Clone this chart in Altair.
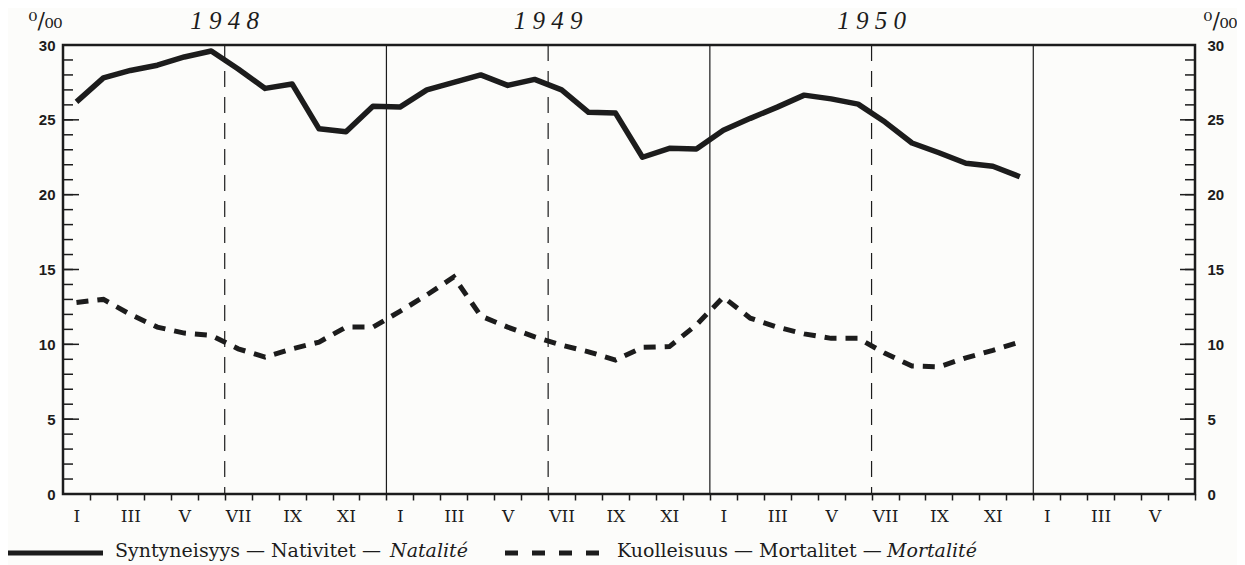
import altair as alt
import pandas as pd

# ---------------- data ----------------
years = [1948, 1949, 1950]
months_shown = 42  # Jan 1948 .. Jun 1951 on the x axis
roman = ["I", "II", "III", "IV", "V", "VI", "VII", "VIII", "IX", "X", "XI", "XII"]

births = [26.2, 27.8, 28.3, 28.65, 29.2, 29.6, 28.4, 27.1, 27.4, 24.4, 24.2, 25.9,
          25.85, 27.0, 27.5, 28.0, 27.3, 27.7, 27.0, 25.5, 25.45, 22.5, 23.1, 23.05,
          24.3, 25.1, 25.85, 26.65, 26.4, 26.05, 24.85, 23.45, 22.8, 22.1, 21.9, 21.2]
deaths = [12.8, 13.0, 12.0, 11.15, 10.75, 10.6, 9.7, 9.15, 9.7, 10.15, 11.15, 11.15,
          12.2, 13.3, 14.5, 11.9, 11.15, 10.5, 9.95, 9.5, 8.95, 9.8, 9.85, 11.3,
          13.15, 11.75, 11.15, 10.7, 10.4, 10.4, 9.4, 8.55, 8.5, 9.1, 9.6, 10.15]

y_major = [0, 5, 10, 15, 20, 25, 30]
y_minor = list(range(0, 31))
unit = "⁰/₀₀"
legend_plain = ["Syntyneisyys — Nativitet — ", "Kuolleisuus — Mortalitet — "]
legend_italic = ["Natalité", "Mortalité"]

# ---------------- layout / style ----------------
W, H = 1132, 449
INK = "#1c1c1c"
half = W / months_shown / 2

df = pd.DataFrame({"m": [i + 0.5 for i in range(len(births))],
                   "births": births, "deaths": deaths})
year_df = pd.DataFrame({"year": years})
year_df["start"] = (year_df["year"] - years[0]) * 12
year_df["mid"] = year_df["start"] + 6
year_df["end"] = year_df["start"] + 12
year_df["label"] = [" ".join(str(y)) for y in years]

xscale = alt.Scale(domain=[0, months_shown], nice=False, zero=False)
yscale = alt.Scale(domain=[0, 30], nice=False)

roman_js = "[" + ",".join("'%s'" % r for r in roman) + "]"
label_expr = "floor(datum.value) % 2 == 0 ? " + roman_js + "[floor(datum.value) % 12] : ''"

xaxis = alt.Axis(values=[i + 0.5 for i in range(months_shown)], labelExpr=label_expr,
                 orient="bottom",
                 tickSize=6, tickOffset=half, labelOffset=-half, tickColor=INK, tickWidth=1.5,
                 labelFont="DejaVu Serif", labelFontSize=17, labelColor=INK, labelPadding=8,
                 domain=False, grid=False, title=None, labelOverlap=False, labelFlush=False)

left_axis = alt.Axis(values=y_major, orient="left", tickSize=0, domain=False, grid=False,
                     labelFont="Liberation Sans", labelFontWeight="bold", labelFontSize=15,
                     labelColor=INK, labelPadding=8, title=unit, titleAngle=0, titleX=-18,
                     titleY=-25, titleFont="DejaVu Serif", titleFontSize=22,
                     titleFontWeight="normal", titleAlign="center", titleBaseline="middle",
                     titleColor=INK)
right_axis = alt.Axis(values=y_major, orient="right", tickSize=0, domain=False, grid=False,
                      labelFont="Liberation Sans", labelFontWeight="bold", labelFontSize=15,
                      labelColor=INK, labelPadding=12, title=unit, titleAngle=0, titleX=25,
                      titleY=-25, titleFont="DejaVu Serif", titleFontSize=22,
                      titleFontWeight="normal", titleAlign="center", titleBaseline="middle",
                      titleColor=INK)

births_line = alt.Chart(df).mark_line(color=INK, strokeWidth=5.5, strokeJoin="round").encode(
    x=alt.X("m:Q", scale=xscale, axis=xaxis),
    y=alt.Y("births:Q", scale=yscale, axis=left_axis),
)
deaths_line = alt.Chart(df).mark_line(color=INK, strokeWidth=5, strokeDash=[12, 9]).encode(
    x=alt.X("m:Q", scale=xscale, axis=None),
    y=alt.Y("deaths:Q", scale=yscale, axis=right_axis),
)

year_lines = alt.Chart(year_df).mark_rule(color=INK, strokeWidth=1.2).encode(
    x=alt.X("end:Q", scale=xscale, axis=None))
mid_lines = alt.Chart(year_df).mark_rule(color=INK, strokeWidth=1.2, strokeDash=[16, 10]).encode(
    x=alt.X("mid:Q", scale=xscale, axis=None))

year_text = alt.Chart(year_df).mark_text(font="Liberation Serif", fontStyle="italic",
                                         fontSize=25, color=INK, baseline="middle").encode(
    x=alt.X("mid:Q", scale=xscale, axis=None), y=alt.value(-24), text="label:N")

minor_df = pd.DataFrame({"v": y_minor})
major_df = pd.DataFrame({"v": y_major})
lt_minor = alt.Chart(minor_df).mark_rule(color=INK, strokeWidth=1.5).encode(
    y=alt.Y("v:Q", scale=yscale, axis=None), x=alt.value(0), x2=alt.value(10))
lt_major = alt.Chart(major_df).mark_rule(color=INK, strokeWidth=1.5).encode(
    y=alt.Y("v:Q", scale=yscale, axis=None), x=alt.value(0), x2=alt.value(16))
rt_minor = alt.Chart(minor_df).mark_rule(color=INK, strokeWidth=1.5).encode(
    y=alt.Y("v:Q", scale=yscale, axis=None), x=alt.value(W), x2=alt.value(W - 10))
rt_major = alt.Chart(major_df).mark_rule(color=INK, strokeWidth=1.5).encode(
    y=alt.Y("v:Q", scale=yscale, axis=None), x=alt.value(W), x2=alt.value(W - 15))

one = pd.DataFrame({"k": [0]})
leg_solid = alt.Chart(one).mark_rule(color=INK, strokeWidth=5).encode(
    x=alt.value(-58), x2=alt.value(40), y=alt.value(508))
leg_dash = alt.Chart(one).mark_rule(color=INK, strokeWidth=5, strokeDash=[13, 14]).encode(
    x=alt.value(442), x2=alt.value(537), y=alt.value(508))

def leg_text(s, x, italic):
    return alt.Chart(pd.DataFrame({"t": [s]})).mark_text(
        align="left", baseline="alphabetic", font="DejaVu Serif", fontSize=19, color=INK,
        fontStyle="italic" if italic else "normal").encode(
        text="t:N", x=alt.value(x), y=alt.value(512))

legend = [leg_text(legend_plain[0], 52, False), leg_text(legend_italic[0], 327, True),
          leg_text(legend_plain[1], 554, False), leg_text(legend_italic[1], 824, True)]

chart = alt.layer(
    births_line, deaths_line, year_lines, mid_lines, lt_minor, lt_major, rt_minor, rt_major,
    year_text, leg_solid, leg_dash, *legend
).resolve_scale(x="shared", y="shared").resolve_axis(
    x="independent", y="independent").properties(
    width=W, height=H,
    autosize=alt.AutoSizeParams(type="none"),
    padding={"left": 55, "top": 37, "right": 42, "bottom": 80},
    background="#fcfcfa",
).configure_view(stroke=INK, strokeWidth=2.5)

chart.save("out.html", embed_options={"renderer": "svg", "actions": False})
